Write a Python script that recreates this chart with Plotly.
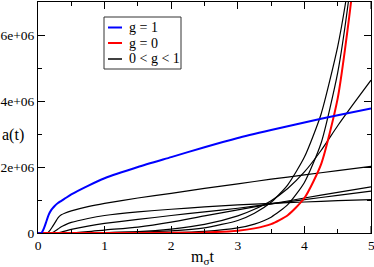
import plotly.graph_objects as go

# ---- data (a(t) in units of 1e6) ----
t_blue = [0, 0.05, 0.08, 0.1, 0.13, 0.16, 0.2, 0.25, 0.3, 0.4, 0.5, 0.75, 1, 1.5, 2, 2.5, 3, 3.5, 4, 4.5, 5]
a_blue = [0, 0, 0.1, 0.2, 0.38, 0.55, 0.7, 0.82, 0.91, 1.04, 1.17, 1.43, 1.66, 2.0, 2.3, 2.6, 2.88, 3.12, 3.35, 3.57, 3.77]

t_red = [0, 1, 2, 2.5, 3, 3.25, 3.5, 3.75, 4, 4.25, 4.5, 4.7, 4.8]
a_red = [0, 0, 0.004, 0.018, 0.07, 0.14, 0.27, 0.54, 1.06, 2.08, 4.08, 7.0, 9.2]

t_k1 = [0, 0.14, 0.18, 0.22, 0.26, 0.3, 0.35, 0.4, 0.5, 0.75, 1, 1.5, 2, 2.5, 3, 3.5, 4, 4.5, 5]
a_k1 = [0, 0, 0.08, 0.2, 0.33, 0.46, 0.55, 0.6, 0.67, 0.8, 0.9, 1.06, 1.2, 1.35, 1.49, 1.63, 1.76, 1.89, 2.02]

t_k2 = [0, 0.2, 0.25, 0.3, 0.35, 0.4, 0.5, 0.75, 1, 1.5, 2, 2.5, 3, 3.5, 4, 4.5, 5]
a_k2 = [0, 0, 0.05, 0.12, 0.19, 0.24, 0.32, 0.44, 0.53, 0.64, 0.72, 0.79, 0.85, 0.9, 0.94, 0.98, 1.01]

t_k3 = [0, 0.27, 0.35, 0.5, 0.75, 1, 1.5, 2, 2.5, 3, 3.5, 4, 4.5, 5]
a_k3 = [0, 0, 0.03, 0.11, 0.21, 0.29, 0.41, 0.53, 0.64, 0.75, 0.88, 1.01, 1.14, 1.27]

t_k4 = [0, 0.45, 0.75, 1, 1.5, 2, 2.5, 3, 3.5, 4, 4.5, 5]
a_k4 = [0, 0, 0.04, 0.09, 0.18, 0.33, 0.52, 0.7, 0.88, 1.06, 1.23, 1.4]

t_k5 = [0, 0.8, 1, 1.5, 2, 2.5, 3, 3.25, 3.5, 3.75, 4, 4.25, 4.5, 4.75, 5]
a_k5 = [0, 0, 0.01, 0.04, 0.12, 0.26, 0.52, 0.72, 0.98, 1.35, 1.85, 2.5, 3.25, 3.95, 4.63]

t_k6 = [0, 1, 1.5, 2, 2.5, 3, 3.25, 3.5, 3.75, 4, 4.25, 4.5, 4.62, 4.75]
a_k6 = [0, 0.01, 0.026, 0.063, 0.155, 0.38, 0.6, 0.93, 1.46, 2.3, 3.6, 5.65, 7.0, 8.8]

t_k7 = [0, 1, 2, 2.5, 3, 3.25, 3.5, 3.75, 4, 4.25, 4.5, 4.66, 4.75]
a_k7 = [0, 0.002, 0.015, 0.05, 0.154, 0.27, 0.48, 0.86, 1.53, 2.72, 4.86, 7.0, 8.6]

black_t = [t_k1, t_k2, t_k3, t_k4, t_k5, t_k6, t_k7]
black_a = [a_k1, a_k2, a_k3, a_k4, a_k5, a_k6, a_k7]

x_ticks = [0, 1, 2, 3, 4, 5]
x_tick_labels = ["0", "1", "2", "3", "4", "5"]
y_ticks = [0, 2, 4, 6]
y_tick_labels = ["0", "2e+06", "4e+06", "6e+06"]

legend_labels = ["g = 1", "g = 0", "0 &lt; g &lt; 1"]
legend_colors = ["#0000ff", "#ff0000", "#000000"]

FONT = "Liberation Serif, Times New Roman, DejaVu Serif, serif"
TICK_SIZE = 13.5

fig = go.Figure()
for tt, aa in zip(black_t, black_a):
    fig.add_trace(go.Scatter(x=tt, y=aa, mode="lines",
                             line=dict(color="#000000", width=1.2, shape="spline", smoothing=0.6),
                             showlegend=False, hoverinfo="skip"))
fig.add_trace(go.Scatter(x=t_red, y=a_red, mode="lines",
                         line=dict(color="#ff0000", width=2, shape="spline", smoothing=0.6),
                         showlegend=False))
fig.add_trace(go.Scatter(x=t_blue, y=a_blue, mode="lines",
                         line=dict(color="#0000ff", width=2, shape="spline", smoothing=0.6),
                         showlegend=False))

W, H = 374, 267
ml, mr, mt, mb = 38, 3, 2, 34
pw, ph = W - ml - mr, H - mt - mb

def px(x):
    return (x - ml) / pw

def py(y):
    return (H - mb - y) / ph

axis_common = dict(showline=True, linecolor="black", linewidth=1, mirror="ticks",
                   ticks="inside", ticklen=7, tickcolor="black", tickwidth=1,
                   showgrid=False, zeroline=False, automargin=False,
                   tickfont=dict(family=FONT, size=TICK_SIZE, color="black"))

fig.update_xaxes(range=[0, 5], tickvals=x_ticks[:-1], ticktext=x_tick_labels[:-1],
                 minor=dict(ticks="inside", ticklen=4, dtick=0.5, tick0=0, tickcolor="black", showgrid=False),
                 **axis_common)
fig.update_yaxes(range=[0, 7], tickvals=y_ticks, ticktext=y_tick_labels,
                 minor=dict(ticks="inside", ticklen=4, dtick=1, tick0=0, tickcolor="black", showgrid=False),
                 **axis_common)

shapes = [dict(type="rect", xref="paper", yref="paper",
               x0=px(104), x1=px(181), y0=py(69), y1=py(17),
               line=dict(color="#333333", width=1), fillcolor="white", layer="above")]
# major tick at x=5 (its label is drawn as an annotation so it is not dropped at the edge)
annotations = [dict(text=x_tick_labels[-1], xref="x", yref="paper", x=x_ticks[-1], y=py(236),
                    xanchor="center", yanchor="top", showarrow=False,
                    font=dict(family=FONT, size=TICK_SIZE, color="black"))]
for yy_pos, ln in ((0, 7), (1, 7)):
    shapes.append(dict(type="line", xref="x", yref="paper", x0=x_ticks[-1], x1=x_ticks[-1],
                       y0=yy_pos, y1=py(H - mb - ln) if yy_pos == 0 else py(mt + ln),
                       line=dict(color="black", width=1)))

rows = [27.5, 43, 59]
for lab, col, yy in zip(legend_labels, legend_colors, rows):
    shapes.append(dict(type="line", xref="paper", yref="paper",
                       x0=px(108), x1=px(122), y0=py(yy), y1=py(yy),
                       line=dict(color=col, width=2 if col != "#000000" else 1.5), layer="above"))
    annotations.append(dict(text=lab, xref="paper", yref="paper", x=px(127), y=py(yy),
                            xanchor="left", yanchor="middle", showarrow=False,
                            font=dict(family=FONT, size=14, color="black")))

annotations.append(dict(text="a(t)", xref="paper", yref="paper", x=px(0), y=py(135),
                        xanchor="left", yanchor="middle", showarrow=False,
                        font=dict(family=FONT, size=16, color="black")))
annotations.append(dict(text="m<sub>σ</sub>t", xref="paper", yref="paper", x=px(202), y=py(257),
                        xanchor="center", yanchor="middle", showarrow=False,
                        font=dict(family=FONT, size=16, color="black")))

fig.update_layout(width=W, height=H, margin=dict(l=ml, r=mr, t=mt, b=mb),
                  plot_bgcolor="white", paper_bgcolor="white",
                  shapes=shapes, annotations=annotations, showlegend=False)

fig.write_html("out.html", config={"displayModeBar": False},
               post_script="document.body.style.margin='0';document.body.style.padding='0';document.body.style.overflow='hidden';")
